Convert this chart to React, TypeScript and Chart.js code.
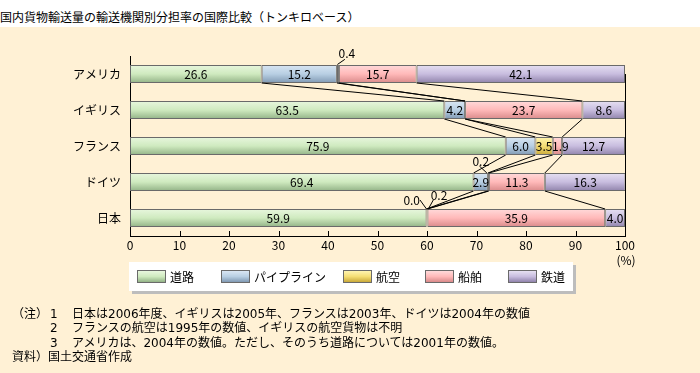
import React, { useEffect, useRef } from "react";
import { Chart, registerables } from "chart.js";

Chart.register(...registerables);

const TITLE = "国内貨物輸送量の輸送機関別分担率の国際比較（トンキロベース）";
const CATEGORIES = ["アメリカ", "イギリス", "フランス", "ドイツ", "日本"];
const SERIES_NAMES = ["道路", "パイプライン", "航空", "船舶", "鉄道"];
const ROAD = [26.6, 63.5, 75.9, 69.4, 59.9];
const PIPELINE = [15.2, 4.2, 6.0, 2.9, 0.0];
const AIR: (number | null)[] = [0.4, null, 3.5, 0.2, 0.2];
const WATER = [15.7, 23.7, 1.9, 11.3, 35.9];
const RAIL = [42.1, 8.6, 12.7, 16.3, 4.0];
const X_MIN = 0;
const X_MAX = 100;
const X_STEP = 10;
const UNIT_LABEL = "(%)";
const NOTE_HEAD = "（注）";
const NOTES = [
  ["1", "日本は2006年度、イギリスは2005年、フランスは2003年、ドイツは2004年の数値"],
  ["2", "フランスの航空は1995年の数値、イギリスの航空貨物は不明"],
  ["3", "アメリカは、2004年の数値。ただし、そのうち道路については2001年の数値。"],
];
const SOURCE = "資料）国土交通省作成";

const SERIES = [ROAD, PIPELINE, AIR, WATER, RAIL];

// styling
const FONT = '"Noto Sans CJK JP", "Noto Sans", sans-serif';
const NOTE_FONT = '"DejaVu Sans", "Noto Sans CJK JP", sans-serif';
const BG = "#FFF1D5";
const GRADS = [
  ["#e8f7de", "#cfeabf", "#93b387"],
  ["#d9e6f3", "#b8cfe3", "#8099b3"],
  ["#fff4b0", "#f5de74", "#c9a93a"],
  ["#ffdada", "#ffb9b9", "#d98a8a"],
  ["#e6e0f2", "#c8bddf", "#9083ab"],
];
const BORDER = "#6a6a6a";

// callouts for tiny segments: [dataset, index, labelDx, labelDy, l1x, l1y, l2x, l2y]
const CALLOUTS: number[][] = [
  [2, 0, 9, -11.7, 7, -5.7, -0.5, -0.5],
  [2, 3, -7.6, -11.3, -9, -7, -1.5, 0],
  [1, 4, -14.8, -8.7, -6.5, -9, 0, 0],
  [2, 4, 12, -14, 6.3, -9, 1.3, 0],
];

function gradFor(chart: any, idx: number, di: number) {
  const scales = chart.scales;
  const g = GRADS[di];
  if (!scales || !scales.y || idx === undefined || idx === null) return g[1];
  const yc = scales.y.getPixelForValue(idx);
  if (!Number.isFinite(yc)) return g[1];
  const gr = chart.ctx.createLinearGradient(0, yc - 9, 0, yc + 9);
  gr.addColorStop(0, g[0]);
  gr.addColorStop(0.5, g[1]);
  gr.addColorStop(1, g[2]);
  return gr;
}

const overlayPlugin = {
  id: "overlay",
  beforeDatasetsDraw(chart: any) {
    const { ctx, chartArea, scales } = chart;
    const x = scales.x;
    ctx.save();
    ctx.strokeStyle = "#000";
    ctx.lineWidth = 1;
    for (let v = X_MIN; v <= X_MAX; v += X_STEP) {
      const px = Math.round(x.getPixelForValue(v)) + 0.5;
      ctx.beginPath();
      ctx.moveTo(px, chartArea.bottom - 5);
      ctx.lineTo(px, chartArea.bottom);
      ctx.stroke();
    }
    const rx = Math.round(chartArea.right) + 0.5;
    ctx.beginPath();
    ctx.moveTo(rx, scales.y.getPixelForValue(0));
    ctx.lineTo(rx, chartArea.bottom);
    ctx.stroke();
    ctx.restore();
  },
  afterDatasetsDraw(chart: any) {
    const { ctx, scales } = chart;
    const xs = scales.x;
    const ys = scales.y;
    const meta0 = chart.getDatasetMeta(0);
    const half = (i: number) => meta0.data[i].height / 2;
    const cum = CATEGORIES.map((_, i) => {
      const out: number[] = [];
      let s = 0;
      for (let k = 0; k < SERIES.length; k++) {
        s += (SERIES[k][i] as number) || 0;
        out.push(s);
      }
      return out;
    });
    ctx.save();
    ctx.strokeStyle = "#000";
    ctx.lineWidth = 1;
    for (let i = 0; i < CATEGORIES.length - 1; i++) {
      const yb = ys.getPixelForValue(i) + half(i);
      const yt = ys.getPixelForValue(i + 1) - half(i + 1);
      for (let k = 0; k < SERIES.length - 1; k++) {
        ctx.beginPath();
        ctx.moveTo(xs.getPixelForValue(cum[i][k]), yb);
        ctx.lineTo(xs.getPixelForValue(cum[i + 1][k]), yt);
        ctx.stroke();
      }
    }
    ctx.fillStyle = "#000";
    ctx.font = `12px ${FONT}`;
    ctx.textAlign = "center";
    ctx.textBaseline = "middle";
    const callKeys = new Set(CALLOUTS.map((c) => `${c[0]}-${c[1]}`));
    for (let di = 0; di < SERIES.length; di++) {
      const meta = chart.getDatasetMeta(di);
      for (let i = 0; i < CATEGORIES.length; i++) {
        const v = SERIES[di][i];
        if (v === null || v === undefined) continue;
        if (callKeys.has(`${di}-${i}`)) continue;
        const el = meta.data[i];
        const p = el.getProps(["x", "base", "y"], true);
        const extra = di === 3 && i === 2 ? 3 : 0;
        ctx.fillText((v as number).toFixed(1), (p.x + p.base) / 2 + extra, p.y + 0.5);
      }
    }
    for (const c of CALLOUTS) {
      const [di, i, lx, ly, ax, ay, bx, by] = c;
      const meta = chart.getDatasetMeta(di);
      const el = meta.data[i];
      const p = el.getProps(["x", "base", "y"], true);
      const sx = (p.x + p.base) / 2;
      const top = ys.getPixelForValue(i) - half(i);
      ctx.fillText((SERIES[di][i] as number).toFixed(1), sx + lx, top + ly);
      ctx.beginPath();
      ctx.moveTo(sx + ax, top + ay);
      ctx.lineTo(sx + bx, top + by);
      ctx.stroke();
    }
    ctx.fillText(UNIT_LABEL, xs.getPixelForValue(X_MAX) + 1, 260);
    ctx.restore();
  },
};

export default function App() {
  const ref = useRef<HTMLCanvasElement | null>(null);
  useEffect(() => {
    if (!ref.current) return;
    const chart = new Chart(ref.current, {
      type: "bar",
      data: {
        labels: CATEGORIES,
        datasets: SERIES.map((d, di) => ({
          label: SERIES_NAMES[di],
          data: d as any,
          backgroundColor: (c: any) => gradFor(c.chart, c.dataIndex, di),
          borderColor: BORDER,
          borderWidth: 1,
          borderSkipped: false,
          barPercentage: 0.5,
          categoryPercentage: 1,
        })),
      },
      options: {
        indexAxis: "y",
        responsive: false,
        animation: false,
        events: [],
        layout: { padding: { top: 56, right: 75, bottom: 107, left: 0 } },
        plugins: { legend: { display: false }, tooltip: { enabled: false }, title: { display: false } },
        scales: {
          x: {
            stacked: true,
            min: X_MIN,
            max: X_MAX,
            ticks: { stepSize: X_STEP, color: "#000", font: { family: FONT, size: 12 }, padding: 2, maxRotation: 0 },
            grid: { display: false, drawTicks: false },
            border: { display: true, color: "#000", width: 1 },
            afterFit: (s: any) => {
              s.height = 30;
            },
          },
          y: {
            stacked: true,
            ticks: { color: "#000", font: { family: FONT, size: 12 }, padding: 9 },
            grid: { display: false, drawTicks: false },
            border: { display: true, color: "#000", width: 1 },
            afterFit: (s: any) => {
              s.width = 130;
            },
          },
        },
      } as any,
      plugins: [overlayPlugin],
    });
    return () => chart.destroy();
  }, []);

  const txt: React.CSSProperties = {
    position: "absolute",
    fontFamily: FONT,
    fontSize: 12,
    lineHeight: "14px",
    color: "#000",
    whiteSpace: "nowrap",
  };
  const note: React.CSSProperties = { ...txt, fontFamily: NOTE_FONT };
  const swLeft = [137, 221, 343, 425, 508];
  const noteY = [314, 328, 342.5];

  return (
    <div style={{ position: "relative", width: 700, height: 373, background: BG, overflow: "hidden" }}>
      <style>{`body{margin:0}`}</style>
      <div style={{ position: "absolute", left: 0, top: 0, width: 700, height: 27, background: "#fff" }} />
      <div style={{ ...txt, left: 0, top: 10 }}>{TITLE}</div>
      <canvas ref={ref} width={700} height={373} style={{ position: "absolute", left: 0, top: 0, width: 700, height: 373 }} />
      <div
        style={{
          position: "absolute",
          left: 129,
          top: 262,
          width: 444,
          height: 29,
          background: "#fff",
          boxShadow: "3px 3px 0 #bdbdbd",
        }}
      />
      {SERIES_NAMES.map((n, i) => (
        <React.Fragment key={n}>
          <div
            style={{
              position: "absolute",
              left: swLeft[i],
              top: 270,
              width: 27,
              height: 11,
              border: `1px solid ${BORDER}`,
              background: `linear-gradient(${GRADS[i][0]}, ${GRADS[i][1]} 50%, ${GRADS[i][2]})`,
            }}
          />
          <div style={{ ...txt, left: swLeft[i] + 33, top: 270 }}>{n}</div>
        </React.Fragment>
      ))}
      <div style={{ ...note, left: 12, top: noteY[0] - 7 }}>{NOTE_HEAD}</div>
      {NOTES.map((n, i) => (
        <React.Fragment key={n[0]}>
          <div style={{ ...note, left: 50, top: noteY[i] - 7 }}>{n[0]}</div>
          <div style={{ ...note, left: 72, top: noteY[i] - 7 }}>{n[1]}</div>
        </React.Fragment>
      ))}
      <div style={{ ...note, left: 12, top: 357 - 7 }}>{SOURCE}</div>
    </div>
  );
}
